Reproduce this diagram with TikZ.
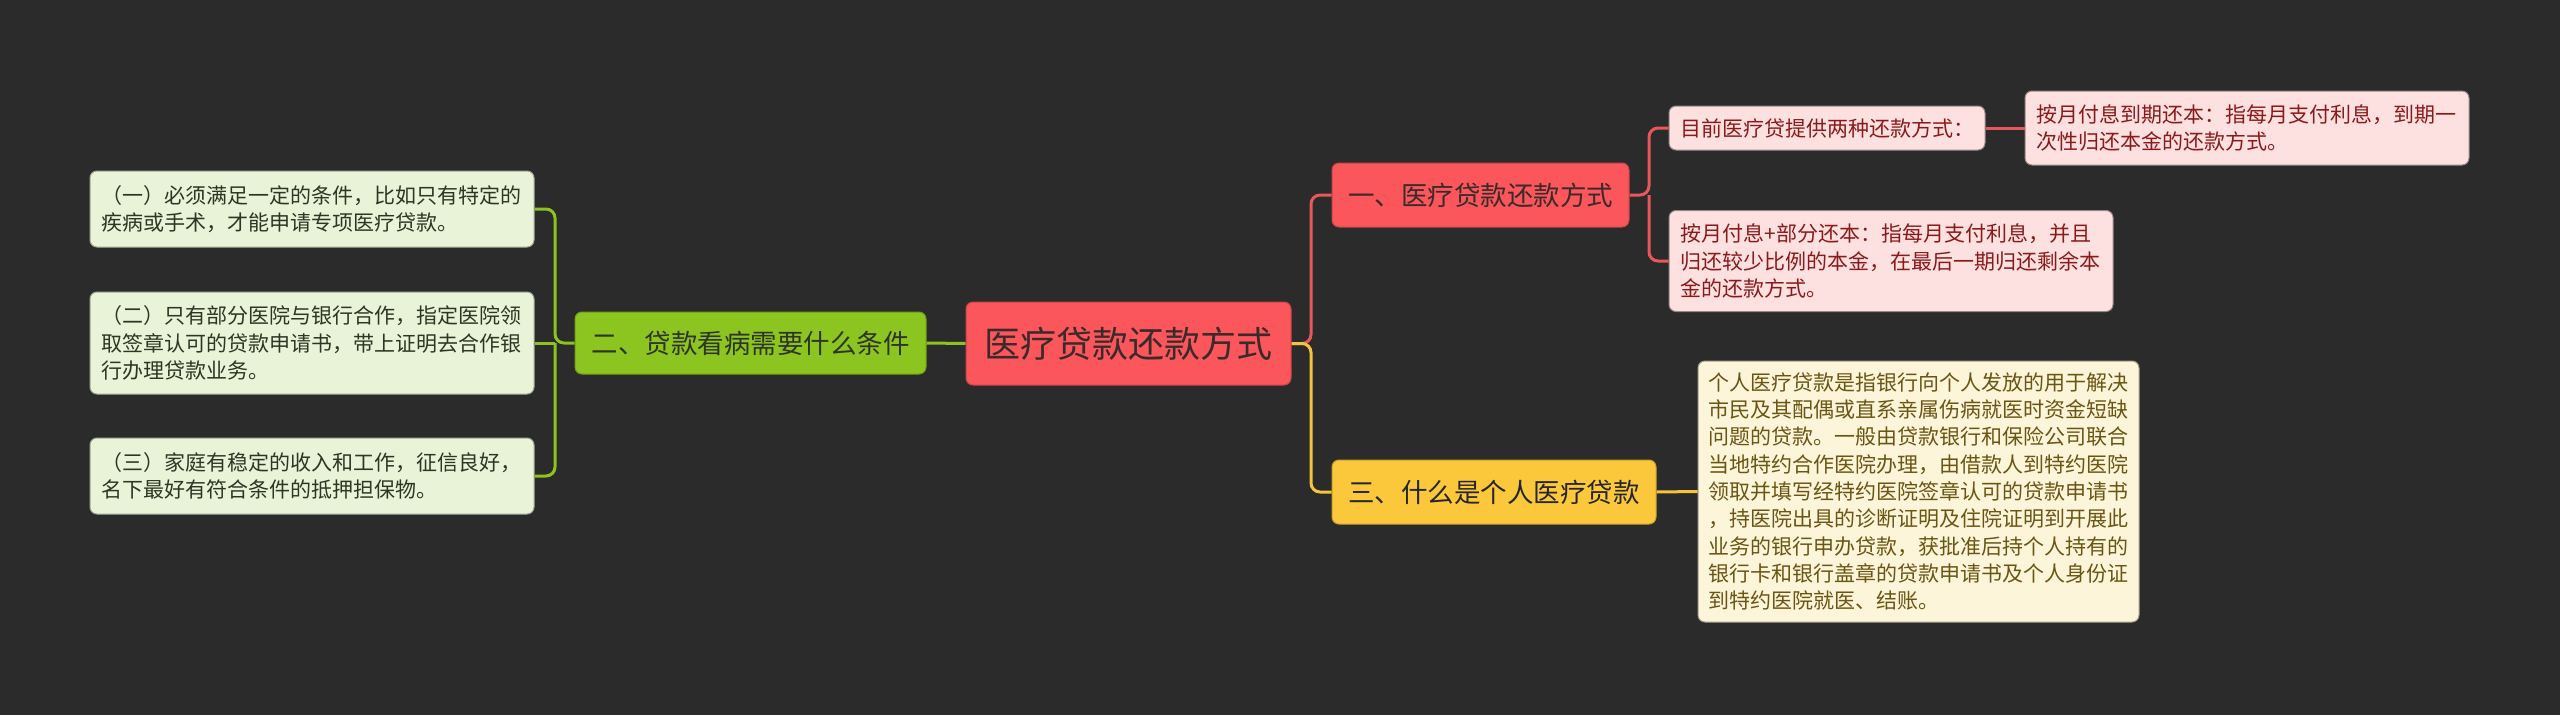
\documentclass[tikz,border=0pt]{standalone}
\usepackage{fontspec}
\newfontfamily\cjk{Noto Sans CJK SC}
\definecolor{bg}{HTML}{2B2B2B}
\definecolor{rootred}{HTML}{FA565B}
\definecolor{linered}{HTML}{E8575B}
\definecolor{brgreen}{HTML}{8CC51F}
\definecolor{lngreen}{HTML}{8DC21F}
\definecolor{bryellow}{HTML}{FBC83C}
\definecolor{lnyellow}{HTML}{F4C43E}
\definecolor{pinkfill}{HTML}{FDE1E1}
\definecolor{pinktext}{HTML}{8A1A1A}
\definecolor{gfill}{HTML}{E9F3D8}
\definecolor{gtext}{HTML}{2E3524}
\definecolor{yfill}{HTML}{FDF5DA}
\definecolor{ytext}{HTML}{6A5512}
\definecolor{darktext}{HTML}{3A2A2A}
\begin{document}
\begin{tikzpicture}[x=1pt,y=-1pt,
  box/.style={rounded corners=7pt, inner sep=0pt, font=\cjk},
  rootbox/.style={box, fill=rootred, draw=rootred!80!black, line width=1pt, text=darktext,
     font=\cjk\fontsize{36}{42}\selectfont},
  brbox/.style={box, line width=1pt, font=\cjk\fontsize{26.5}{32}\selectfont},
  leafbox/.style={box, line width=1pt, align=left, font=\cjk\fontsize{21}{27.3}\selectfont},
  wide/.style={text width=421pt},
  conn/.style={line width=3pt, rounded corners=9pt}
]
\useasboundingbox (0,0) rectangle (2560,715);
\fill[bg] (0,0) rectangle (2560,715);

% root
\node[rootbox, minimum width=325pt, minimum height=83pt] (root) at (1128.5,343.5) {医疗贷款还款方式};

% branches
\node[brbox, fill=brgreen, draw=brgreen!80!black, text=gtext, minimum width=351pt, minimum height=62pt] (b2) at (750.5,343) {二、贷款看病需要什么条件};
\node[brbox, fill=rootred, draw=rootred!80!black, text=darktext, minimum width=297pt, minimum height=64pt] (b1) at (1480.5,195) {一、医疗贷款还款方式};
\node[brbox, fill=bryellow, draw=bryellow!80!black, text=black!85, minimum width=324pt, minimum height=64pt] (b3) at (1494,492) {三、什么是个人医疗贷款};

% left leaves
\node[leafbox, wide, fill=gfill, draw=gfill!70!black, text=gtext, minimum width=444pt, minimum height=76pt] (l1) at (312,209) {（一）必须满足一定的条件，比如只有特定的\\疾病或手术，才能申请专项医疗贷款。};
\node[leafbox, wide, fill=gfill, draw=gfill!70!black, text=gtext, minimum width=444pt, minimum height=102pt] (l2) at (312,343) {（二）只有部分医院与银行合作，指定医院领\\取签章认可的贷款申请书，带上证明去合作银\\行办理贷款业务。};
\node[leafbox, wide, fill=gfill, draw=gfill!70!black, text=gtext, minimum width=444pt, minimum height=76pt] (l3) at (312,476) {（三）家庭有稳定的收入和工作，征信良好，\\名下最好有符合条件的抵押担保物。};

% pink leaves
\node[leafbox, fill=pinkfill, draw=pinkfill!60!black, text=pinktext, minimum width=316pt, minimum height=44pt] (p1) at (1827,128) {目前医疗贷提供两种还款方式：};
\node[leafbox, wide, fill=pinkfill, draw=pinkfill!60!black, text=pinktext, minimum width=444pt, minimum height=101pt] (p2) at (1891,261) {按月付息+部分还本：指每月支付利息，并且\\归还较少比例的本金，在最后一期归还剩余本\\金的还款方式。};
\node[leafbox, wide, fill=pinkfill, draw=pinkfill!60!black, text=pinktext, minimum width=444pt, minimum height=74pt] (p3) at (2247,128) {按月付息到期还本：指每月支付利息，到期一\\次性归还本金的还款方式。};

% yellow leaf
\node[leafbox, wide, fill=yfill, draw=yfill!65!black, text=ytext, minimum width=441pt, minimum height=261pt] (y1) at (1918.5,491.5) {个人医疗贷款是指银行向个人发放的用于解决\\市民及其配偶或直系亲属伤病就医时资金短缺\\问题的贷款。一般由贷款银行和保险公司联合\\当地特约合作医院办理，由借款人到特约医院\\领取并填写经特约医院签章认可的贷款申请书\\，持医院出具的诊断证明及住院证明到开展此\\业务的银行申办贷款，获批准后持个人持有的\\银行卡和银行盖章的贷款申请书及个人身份证\\到特约医院就医、结账。};

% connectors
\coordinate (rj) at (1311,343.5);
\coordinate (lj) at (555,343);
\coordinate (pj) at (1649,195);

\draw[conn, lngreen] (root.west) -- (b2.east);
\draw[conn, lngreen] (b2.west) -- (lj) |- (l1.east);
\draw[conn, lngreen] (lj) -- (l2.east);
\draw[conn, lngreen] (lj) |- (l3.east);

\draw[conn, linered] (root.east) -- (rj) |- (b1.west);
\draw[conn, lnyellow] (root.east) -- (rj) |- (b3.west);

\draw[conn, linered] (b1.east) -- (pj) |- (p1.west);
\draw[conn, linered] (pj) |- (p2.west);
\draw[conn, linered] (p1.east) -- (p3.west);

\draw[conn, lnyellow] (b3.east) -- (y1.west);
\end{tikzpicture}
\end{document}
